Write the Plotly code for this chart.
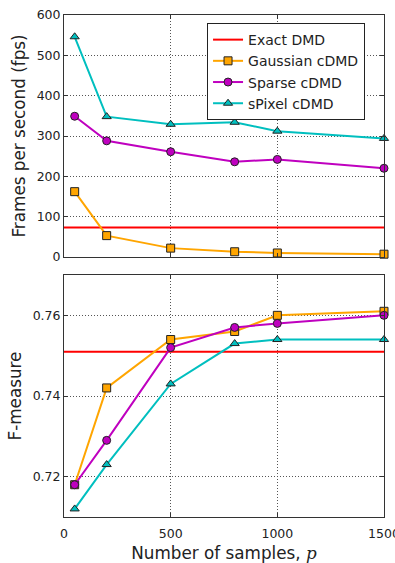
import plotly.graph_objects as go
from plotly.subplots import make_subplots

samples = [50, 200, 500, 800, 1000, 1500]
exact_fps = 73
gauss_fps = [162, 53, 22, 13, 10, 7]
sparse_fps = [349, 288, 261, 236, 242, 220]
spixel_fps = [546, 348, 329, 334, 312, 294]

exact_f = 0.751
gauss_f = [0.718, 0.742, 0.754, 0.756, 0.760, 0.761]
sparse_f = [0.718, 0.729, 0.752, 0.757, 0.758, 0.760]
spixel_f = [0.712, 0.723, 0.743, 0.753, 0.754, 0.754]

names = ["Exact DMD", "Gaussian cDMD", "Sparse cDMD", "sPixel cDMD"]
colors = ["#ff0000", "#ffa500", "#bf00bf", "#00bfbf"]
symbols = ["square", "circle", "triangle-up"]

fig = make_subplots(rows=2, cols=1, shared_xaxes=False, vertical_spacing=18 / 502)

xr = [0, 1500]
font = "DejaVu Sans"
tcol = "#222222"

for row, (ex, series) in enumerate([(exact_fps, [gauss_fps, sparse_fps, spixel_fps]),
                                     (exact_f, [gauss_f, sparse_f, spixel_f])], start=1):
    show = row == 1
    fig.add_trace(go.Scatter(x=xr, y=[ex, ex], mode="lines", name=names[0],
                             line=dict(color=colors[0], width=2), showlegend=show),
                  row=row, col=1)
    for i, ys in enumerate(series):
        fig.add_trace(go.Scatter(x=samples, y=ys, mode="lines+markers", name=names[i + 1],
                                 line=dict(color=colors[i + 1], width=2),
                                 marker=dict(symbol=symbols[i], size=8, color=colors[i + 1],
                                             line=dict(color="#222222", width=1)),
                                 showlegend=show, cliponaxis=False),
                      row=row, col=1)

axis_common = dict(showline=True, linecolor="#333333", linewidth=1, mirror="allticks",
                   ticks="inside", ticklen=4, tickcolor="#333333",
                   showgrid=True, gridcolor="#555555", griddash="1px,2px", gridwidth=1,
                   zeroline=False, tickfont=dict(family=font, size=12.5, color=tcol),
                   ticklabeloverflow="allow", automargin=False)

fig.update_xaxes(range=xr, tickvals=[0, 500, 1000, 1500], **axis_common)
fig.update_xaxes(showticklabels=False, row=1, col=1)
fig.update_xaxes(ticklabelstandoff=5,
                 title=dict(text="Number of samples, <span style=\"font-family:'DejaVu Serif';font-style:italic\">p</span>",
                            font=dict(family=font, size=16.8, color=tcol), standoff=8),
                 row=2, col=1)

fig.update_yaxes(**axis_common)
fig.update_yaxes(range=[0, 600], tickvals=[0, 100, 200, 300, 400, 500, 600],
                 title=dict(text="Frames per second (fps)", font=dict(family=font, size=16.8, color=tcol), standoff=6),
                 row=1, col=1)
fig.update_yaxes(range=[0.71, 0.77], tickvals=[0.72, 0.74, 0.76], tickformat=".2f",
                 title=dict(text="F-measure", font=dict(family=font, size=16.8, color=tcol), standoff=6),
                 row=2, col=1)

fig.update_layout(
    width=395, height=563,
    margin=dict(l=64, r=11, t=15, b=46, autoexpand=False),
    paper_bgcolor="white", plot_bgcolor="white",
    font=dict(family=font, color=tcol),
    legend=dict(x=0.447, y=0.984, xanchor="left", yanchor="top",
                bgcolor="white", bordercolor="#222222", borderwidth=1,
                font=dict(family=font, size=14, color=tcol),
                tracegroupgap=0, itemwidth=30),
)

fig.write_html("out.html")
